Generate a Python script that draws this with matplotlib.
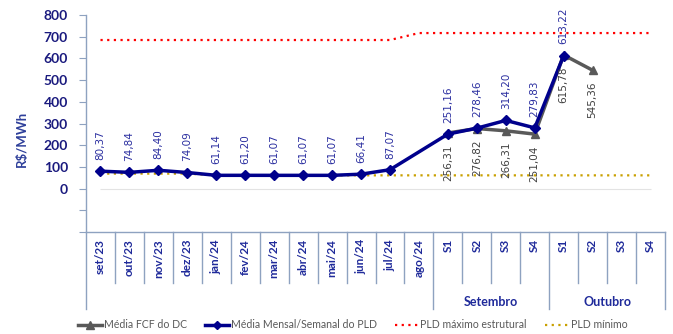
import numpy as np
import matplotlib
matplotlib.use("Agg")
import matplotlib.pyplot as plt
import matplotlib.transforms as mtransforms
from matplotlib.lines import Line2D

# DATA
categories = ['set/23', 'out/23', 'nov/23', 'dez/23', 'jan/24', 'fev/24', 'mar/24',
              'abr/24', 'mai/24', 'jun/24', 'jul/24', 'ago/24',
              'S1', 'S2', 'S3', 'S4', 'S1', 'S2', 'S3', 'S4']
groups = ['Setembro', 'Outubro']
group_spans = [(12, 16), (16, 20)]

nan = np.nan
pld_medio = [80.37, 74.84, 84.40, 74.09, 61.14, 61.20, 61.07, 61.07, 61.07, 66.41,
             87.07, nan, 251.16, 278.46, 314.20, 279.83, 613.22, nan, nan, nan]
fcf_dc = [nan, nan, nan, nan, nan, nan, nan, nan, nan, nan, nan, nan,
          256.31, 276.82, 266.31, 251.04, 615.78, 545.36, nan, nan]
pld_max = [684.73, 684.73, 684.73, 684.73, 684.73, 684.73, 684.73, 684.73, 684.73, 684.73,
           684.73, 716.80, 716.80, 716.80, 716.80, 716.80, 716.80, 716.80, 716.80, 716.80]
pld_min = [69.04, 69.04, 69.04, 69.04, 61.07, 61.07, 61.07, 61.07, 61.07, 61.07,
           61.07, 61.07, 61.07, 61.07, 61.07, 61.07, 61.07, 61.07, 61.07, 61.07]

# STYLE
navy = '#1A1A7E'
blue = '#00008C'
blue_lbl = '#2B2FA0'
gray = '#595959'
gray_lbl = '#404040'
axcol = '#8EA2C0'
plt.rcParams['font.family'] = ['Lato', 'DejaVu Sans']

W, H = 673, 334
fig = plt.figure(figsize=(W / 100, H / 100), dpi=100)
ax = fig.add_axes([86 / W, 1 - 232 / H, (665 - 86) / W, (232 - 15) / H])

x = np.arange(len(categories))
pm = np.array(pld_medio)
fc = np.array(fcf_dc)

ax.hlines(0, 0, len(categories) - 1, color='#E3E3E3', lw=0.8, zorder=1)
ax.plot(x, pld_max, color='#FF0000', lw=1.6, ls=(0, (1, 2)), zorder=2)
ax.plot(x, pld_min, color='#C9A000', lw=1.6, ls=(0, (1, 2)), zorder=2)

mf = np.isfinite(fc)
ax.plot(x[mf], fc[mf], color=gray, lw=2.5, marker='^', ms=6, zorder=3)
mp = np.isfinite(pm)
ax.plot(x[mp], pm[mp], color=blue, lw=2.5, marker='D', ms=5, zorder=4)

for xi, v in zip(x[mp], pm[mp]):
    ax.annotate(f"{v:.2f}".replace('.', ','), (xi, v), xytext=(0, 8),
                textcoords='offset points', rotation=90, ha='center', va='bottom',
                fontsize=7.5, color=blue_lbl, family='DejaVu Sans', zorder=5)
for xi, v in zip(x[mf], fc[mf]):
    ax.annotate(f"{v:.2f}".replace('.', ','), (xi, v), xytext=(0, -8),
                textcoords='offset points', rotation=90, ha='center', va='top',
                fontsize=7.5, color=gray_lbl, family='DejaVu Sans', zorder=5)

ax.set_xlim(-0.5, len(categories) - 0.5)
ax.set_ylim(-200, 800)
yt = np.arange(-200, 801, 100)
ax.set_yticks(yt)
ax.set_yticklabels([str(t) if t >= 0 else '' for t in yt])
ax.tick_params(axis='y', direction='out', length=5, color=axcol, labelcolor=navy,
               labelsize=10, pad=8)
for lab in ax.get_yticklabels():
    lab.set_fontweight('bold')
ax.set_xticks([])
for s in ['top', 'right']:
    ax.spines[s].set_visible(False)
for s in ['left', 'bottom']:
    ax.spines[s].set_color(axcol)
    ax.spines[s].set_linewidth(1.0)

fig.text(22 / W, 1 - 139 / H, 'R$/MWh', rotation=90, ha='center', va='center',
         color='#2E3F9A', fontsize=9.5, fontweight='bold')

# category axis below
tr = mtransforms.blended_transform_factory(ax.transData, fig.transFigure)
y_axis = 1 - 232 / H
y_short = 1 - 283 / H
y_long = 1 - 309 / H
for xi, c in zip(x, categories):
    ax.text(xi, 1 - 239 / H, c, transform=tr, rotation=90, ha='center', va='top',
            fontsize=8.5, fontweight='bold', color='#1F2A9A', clip_on=False)
long_b = {-0.5, len(categories) - 0.5}
for a, b in group_spans:
    long_b.add(a - 0.5)
    long_b.add(b - 0.5)
for bd in np.arange(-0.5, len(categories), 1.0):
    y0 = y_long if bd in long_b else y_short
    fig.add_artist(Line2D([bd, bd], [y_axis, y0], transform=tr, color=axcol, lw=1.0))
for g, (a, b) in zip(groups, group_spans):
    ax.text((a + b - 1) / 2, 1 - 302 / H, g, transform=tr, ha='center', va='center',
            fontsize=9, fontweight='bold', color='#1F2A9A', clip_on=False)

handles = [
    Line2D([], [], color=gray, lw=2.5, marker='^', ms=6),
    Line2D([], [], color=blue, lw=2.5, marker='D', ms=4),
    Line2D([], [], color='#FF0000', lw=1.6, ls=(0, (1, 2))),
    Line2D([], [], color='#C9A000', lw=1.6, ls=(0, (1, 2))),
]
labels = ['Média FCF do DC', 'Média Mensal/Semanal do PLD', 'PLD máximo estrutural', 'PLD mínimo']
leg = fig.legend(handles, labels, loc='center', bbox_to_anchor=(0.524, 1 - 325 / H), ncol=4,
                 frameon=False, fontsize=7.6, handlelength=2.3, handletextpad=0.15,
                 columnspacing=1.7, borderpad=0)
for t in leg.get_texts():
    t.set_color(gray)

fig.savefig('out.png', dpi=100)
